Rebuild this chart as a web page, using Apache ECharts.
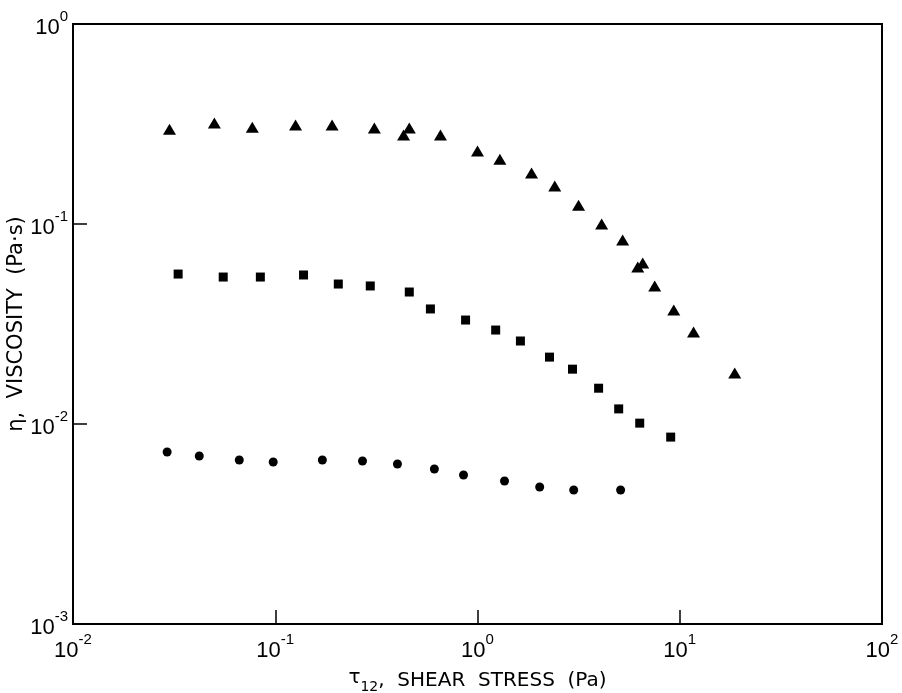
<!DOCTYPE html>
<html>
<head>
<meta charset="utf-8">
<script src="https://cdn.jsdelivr.net/npm/echarts@6/dist/echarts.min.js"></script>
<style>
  html, body { margin: 0; padding: 0; background: #fff; }
  #chart { width: 902px; height: 693px; }
</style>
</head>
<body>
<div id="chart"></div>
<script>
// shear stress (Pa) / viscosity (Pa·s)
const triStress = [0.030, 0.050, 0.077, 0.126, 0.191, 0.309, 0.431, 0.460, 0.656, 1.00, 1.29, 1.85, 2.41, 3.16, 4.11, 5.22, 6.20, 6.56, 7.52, 9.34, 11.7, 18.7]
const triVisc = [0.298, 0.320, 0.305, 0.313, 0.313, 0.302, 0.279, 0.302, 0.279, 0.232, 0.211, 0.180, 0.155, 0.124, 0.100, 0.0832, 0.061, 0.0638, 0.049, 0.0372, 0.0288, 0.018]

const sqStress = [0.0331, 0.0553, 0.0844, 0.138, 0.205, 0.295, 0.460, 0.585, 0.873, 1.23, 1.63, 2.27, 2.95, 3.97, 4.99, 6.34, 9.02]
const sqVisc = [0.0562, 0.0543, 0.0543, 0.0556, 0.0501, 0.049, 0.0457, 0.0376, 0.0331, 0.0295, 0.026, 0.0216, 0.0188, 0.0151, 0.0119, 0.0101, 0.0086]

const cirStress = [0.0292, 0.0421, 0.0664, 0.0977, 0.171, 0.270, 0.402, 0.612, 0.853, 1.36, 2.03, 2.99, 5.10]
const cirVisc = [0.00724, 0.00692, 0.00661, 0.00646, 0.00661, 0.00653, 0.00631, 0.00596, 0.00556, 0.00519, 0.00484, 0.00468, 0.00468]

const xExponents = { 0.01: '-2', 0.1: '-1', 1: '0', 10: '1', 100: '2' }
const yExponents = { 0.001: '-3', 0.01: '-2', 0.1: '-1', 1: '0' }

const pairs = (xs, ys) => xs.map((x, i) => [x, ys[i]])

const font = 'DejaVu Sans'
const labelFont = 'Liberation Sans'
const powRich = {
  b: { fontSize: 22, fontFamily: labelFont, color: '#000', lineHeight: 30, verticalAlign: 'bottom' },
  e: { fontSize: 15, fontFamily: labelFont, color: '#000', lineHeight: 12, verticalAlign: 'top' },
}

const fmt = (table) => (v) => {
  const key = Object.keys(table).find(k => Math.abs(Math.log10(+k) - Math.log10(v)) < 1e-6)
  return key === undefined ? '' : '{b|10}{e|' + table[key] + '}'
}

const chart = echarts.init(document.getElementById('chart'))

const axisCommon = {
  type: 'log',
  logBase: 10,
  axisLine: { show: true, lineStyle: { color: '#000', width: 2 } },
  axisTick: { show: true, inside: true, length: 14, lineStyle: { color: '#000', width: 1.5 } },
  minorTick: { show: false },
  splitLine: { show: false },
  nameMoveOverlap: false,
}

const markStyle = { color: '#000', opacity: 1 }

chart.setOption({
  animation: false,
  backgroundColor: '#fff',
  grid: {
    left: 73,
    right: 20,
    top: 24,
    bottom: 69,
    containLabel: false,
    outerBoundsMode: 'none',
    show: true,
    borderColor: '#000',
    borderWidth: 2,
  },
  xAxis: {
    ...axisCommon,
    min: 0.01,
    max: 100,
    name: '{t|τ}{s|12}{n|,  SHEAR  STRESS  (Pa)}',
    nameLocation: 'middle',
    nameGap: 44,
    nameTextStyle: {
      rich: {
        t: { fontSize: 20, fontFamily: font, color: '#000', lineHeight: 26, verticalAlign: 'top' },
        s: { fontSize: 14, fontFamily: font, color: '#000', lineHeight: 14, verticalAlign: 'bottom' },
        n: { fontSize: 20, fontFamily: font, color: '#000', lineHeight: 26 },
      },
    },
    axisLabel: { formatter: fmt(xExponents), margin: 8, rich: powRich },
  },
  yAxis: {
    ...axisCommon,
    min: 0.001,
    max: 1,
    name: 'η,  VISCOSITY  (Pa·s)',
    nameLocation: 'middle',
    nameGap: 46,
    nameTextStyle: { fontSize: 21, fontFamily: font, color: '#000' },
    axisLabel: { formatter: fmt(yExponents), margin: 5, rich: powRich },
  },
  series: [
    {
      type: 'scatter',
      data: pairs(triStress, triVisc),
      symbol: 'triangle',
      symbolSize: [13, 11],
      itemStyle: markStyle,
    },
    {
      type: 'scatter',
      data: pairs(sqStress, sqVisc),
      symbol: 'rect',
      symbolSize: 9,
      itemStyle: markStyle,
    },
    {
      type: 'scatter',
      data: pairs(cirStress, cirVisc),
      symbol: 'circle',
      symbolSize: 9,
      itemStyle: markStyle,
    },
  ],
})
</script>
</body>
</html>
